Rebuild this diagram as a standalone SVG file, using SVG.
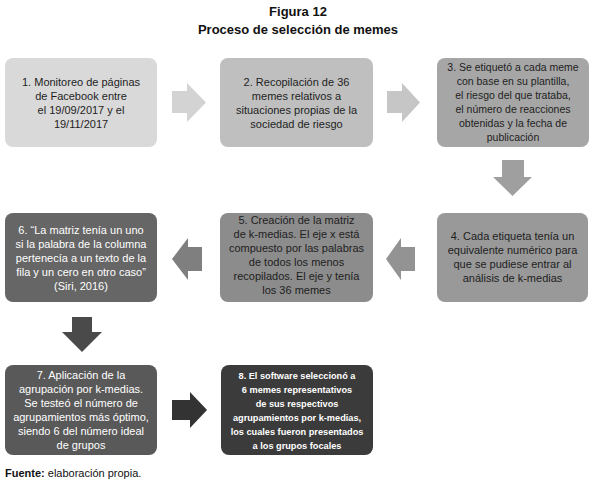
<svg xmlns="http://www.w3.org/2000/svg" width="598" height="485" viewBox="0 0 598 485">
<style>
text{font-family:"Liberation Sans",Arial,sans-serif;font-size:11px;text-anchor:middle}
.t{font-weight:bold;font-size:13px;fill:#111}
.d{fill:#1e1e1e}
.w{fill:#ffffff}
.s3{font-size:10.5px}
.s8{font-weight:bold;font-size:9.2px}
.f{text-anchor:start;font-size:11px;fill:#111}
</style>
<rect width="598" height="485" fill="#ffffff"/>
<text class="t" x="298" y="16">Figura 12</text>
<text class="t" x="298" y="34">Proceso de selección de memes</text>
<g id="connectors">
<polygon points="172,91 187,91 187,83 206,102.5 187,122 187,113 172,113" fill="#d3d3d3"/>
<polygon points="387,91 402,91 402,83 420,102.5 402,122 402,113 387,113" fill="#c6c6c6"/>
<polygon points="502,160 524,160 524,177 532,177 512.5,196 493,177 502,177" fill="#9f9f9f"/>
<polygon points="415,247 401,247 401,238 386,259 401,280 401,271 415,271" fill="#939393"/>
<polygon points="202,247 188,247 188,238 172,259 188,280 188,271 202,271" fill="#7f7f7f"/>
<polygon points="72,317 92,317 92,332 102,332 82,352 62,332 72,332" fill="#4a4a4a"/>
<polygon points="172,400 190,400 190,392 207,410 190,428 190,420 172,420" fill="#333333"/>
</g>
<g id="node1">
<rect x="5" y="58" width="152" height="89" rx="8" fill="#d9d9d9"/>
<text class="d" x="81"><tspan x="81" y="86">1. Monitoreo de páginas</tspan><tspan x="81" y="100">de Facebook entre</tspan><tspan x="81" y="114">el 19/09/2017 y el</tspan><tspan x="81" y="128">19/11/2017</tspan></text>
</g>
<g id="node2">
<rect x="220" y="58" width="153" height="89" rx="8" fill="#bfbfbf"/>
<text class="d" x="296.5"><tspan x="296.5" y="86">2. Recopilación de 36</tspan><tspan x="296.5" y="100">memes relativos a</tspan><tspan x="296.5" y="114">situaciones propias de la</tspan><tspan x="296.5" y="128">sociedad de riesgo</tspan></text>
</g>
<g id="node3">
<rect x="437" y="58" width="152" height="89" rx="8" fill="#a6a6a6"/>
<text class="d s3" x="513"><tspan x="513" y="71">3. Se etiquetó a cada meme</tspan><tspan x="513" y="85">con base en su plantilla,</tspan><tspan x="513" y="99">el riesgo del que trataba,</tspan><tspan x="513" y="113">el número de reacciones</tspan><tspan x="513" y="127">obtenidas y la fecha de</tspan><tspan x="513" y="141">publicación</tspan></text>
</g>
<g id="node4">
<rect x="437" y="213" width="151" height="89" rx="8" fill="#999999"/>
<text class="d" x="512.5"><tspan x="512.5" y="240">4. Cada etiqueta tenía un</tspan><tspan x="512.5" y="254">equivalente numérico para</tspan><tspan x="512.5" y="268">que se pudiese entrar al</tspan><tspan x="512.5" y="282">análisis de k-medias</tspan></text>
</g>
<g id="node5">
<rect x="220" y="213" width="153" height="89" rx="8" fill="#8c8c8c"/>
<text class="d" x="296.5"><tspan x="296.5" y="224">5. Creación de la matriz</tspan><tspan x="296.5" y="238">de k-medias. El eje x está</tspan><tspan x="296.5" y="252">compuesto por las palabras</tspan><tspan x="296.5" y="266">de todos los menos</tspan><tspan x="296.5" y="280">recopilados. El eje y tenía</tspan><tspan x="296.5" y="294">los 36 memes</tspan></text>
</g>
<g id="node6">
<rect x="5" y="213" width="152" height="89" rx="8" fill="#666666"/>
<text class="w" x="81"><tspan x="81" y="234">6. “La matriz tenía un uno</tspan><tspan x="81" y="248">si la palabra de la columna</tspan><tspan x="81" y="262">pertenecía a un texto de la</tspan><tspan x="81" y="276">fila y un cero en otro caso”</tspan><tspan x="81" y="290">(Siri, 2016)</tspan></text>
</g>
<g id="node7">
<rect x="5" y="365" width="152" height="90" rx="8" fill="#595959"/>
<text class="w" x="81"><tspan x="81" y="379">7. Aplicación de la</tspan><tspan x="81" y="393">agrupación por k-medias.</tspan><tspan x="81" y="407">Se testeó el número de</tspan><tspan x="81" y="421">agrupamientos más óptimo,</tspan><tspan x="81" y="435">siendo 6 del número ideal</tspan><tspan x="81" y="449">de grupos</tspan></text>
</g>
<g id="node8">
<rect x="221" y="365" width="152" height="90" rx="8" fill="#3b3b3b"/>
<text class="w s8" x="297"><tspan x="297" y="379">8. El software seleccionó a</tspan><tspan x="297" y="393">6 memes representativos</tspan><tspan x="297" y="407">de sus respectivos</tspan><tspan x="297" y="421">agrupamientos por k-medias,</tspan><tspan x="297" y="435">los cuales fueron presentados</tspan><tspan x="297" y="449">a los grupos focales</tspan></text>
</g>
<text class="f" x="5" y="477"><tspan font-weight="bold">Fuente:</tspan> elaboración propia.</text>
</svg>
